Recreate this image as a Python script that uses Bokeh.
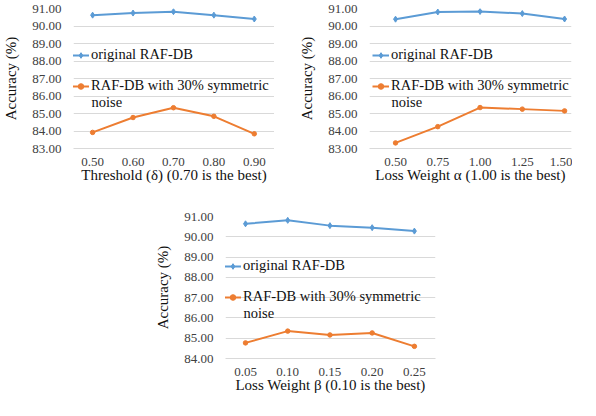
from bokeh.plotting import figure
from bokeh.models import Legend, LegendItem, Range1d, FixedTicker, Spacer, NumeralTickFormatter, Label
from bokeh.layouts import column, row
from bokeh.embed import file_html
from bokeh.resources import INLINE

# ---- data ----
thr = [0.50, 0.60, 0.70, 0.80, 0.90]
thr_orig = [90.62, 90.74, 90.82, 90.62, 90.40]
thr_noisy = [83.92, 84.77, 85.33, 84.84, 83.84]

alpha = [0.50, 0.75, 1.00, 1.25, 1.50]
alpha_orig = [90.39, 90.80, 90.83, 90.71, 90.40]
alpha_noisy = [83.32, 84.25, 85.34, 85.25, 85.15]

beta = [0.05, 0.10, 0.15, 0.20, 0.25]
beta_orig = [90.64, 90.81, 90.55, 90.45, 90.28]
beta_noisy = [84.77, 85.35, 85.16, 85.26, 84.60]

ticks_a = [83, 84, 85, 86, 87, 88, 89, 90, 91]
ticks_b = [84, 85, 86, 87, 88, 89, 90, 91]

label_orig = "original RAF-DB"
label_noisy = "RAF-DB with 30% symmetric"
label_noisy2 = "noise"
ylabel = "Accuracy (%)"

BLUE = "#5B9BD5"
ORANGE = "#ED7D31"
GRID = "#D9D9D9"
FONT = "Liberation Serif"
LEG_SIZE = "14.5px"


def panel(x, orig, noisy, xlabel, xr, yr, yticks, w, h, bl, br, bt, bb, vx, vy1, vy2, ny):
    p = figure(width=w, height=h, output_backend="svg", toolbar_location=None,
               x_range=Range1d(*xr), y_range=Range1d(*yr),
               min_border_left=bl, min_border_right=br, min_border_top=bt, min_border_bottom=bb)
    p.outline_line_color = None
    p.background_fill_color = "white"
    p.border_fill_color = "white"
    p.xgrid.grid_line_color = None
    p.ygrid.grid_line_color = GRID
    p.ygrid.grid_line_width = 1
    p.yaxis.ticker = FixedTicker(ticks=yticks)
    p.xaxis.ticker = FixedTicker(ticks=x)
    p.yaxis.formatter = NumeralTickFormatter(format="0.00")
    p.xaxis.formatter = NumeralTickFormatter(format="0.00")
    for ax in (p.xaxis[0], p.yaxis[0]):
        ax.major_tick_line_color = None
        ax.minor_tick_line_color = None
        ax.major_tick_out = 0
        ax.major_tick_in = 0
        ax.minor_tick_out = 0
        ax.minor_tick_in = 0
        ax.major_label_text_font = FONT
        ax.major_label_text_font_size = "13px"
        ax.major_label_text_color = "#404040"
        ax.axis_label_text_font = FONT
        ax.axis_label_text_font_size = "15px"
        ax.axis_label_text_font_style = "normal"
        ax.axis_label_text_color = "#111111"
    p.yaxis.axis_line_color = None
    p.xaxis.axis_line_color = GRID
    p.yaxis.major_label_standoff = 12
    p.yaxis.axis_label_standoff = 10
    p.xaxis.major_label_standoff = 9
    p.xaxis.axis_label_standoff = -2
    p.yaxis.axis_label = ylabel
    p.xaxis.axis_label = xlabel

    l1 = p.line(x, orig, line_color=BLUE, line_width=2)
    s1 = p.scatter(x, orig, marker="diamond", size=6, color=BLUE)
    l2 = p.line(x, noisy, line_color=ORANGE, line_width=2)
    s2 = p.scatter(x, noisy, marker="circle", size=4.5, color=ORANGE)

    for (lab, rs, vy) in ((label_orig, [l1, s1], vy1), (label_noisy, [l2, s2], vy2)):
        lg = Legend(items=[LegendItem(label=lab, renderers=rs)], location=(vx, vy),
                    padding=0, margin=0, spacing=0, glyph_width=17, glyph_height=14,
                    label_standoff=2, label_text_font=FONT, label_text_font_size=LEG_SIZE,
                    label_text_color="#111111", background_fill_alpha=0,
                    border_line_alpha=0, label_height=14)
        p.add_layout(lg)
    p.add_layout(Label(x=vx + 19, y=ny, x_units="screen", y_units="screen", text=label_noisy2,
                       text_font=FONT, text_font_size=LEG_SIZE, text_color="#111111",
                       text_baseline="middle", text_align="left"))
    return p


p1 = panel(thr, thr_orig, thr_noisy, "Threshold (δ) (0.70 is the best)",
           (0.4527, 0.95), (83, 91), ticks_a, 274, 190, 67, 0, 8, 42,
           -1, 85, 54, 47)
p2 = panel(alpha, alpha_orig, alpha_noisy, "Loss Weight α (1.00 is the best)",
           (0.346, 1.541), (83, 91), ticks_a, 298, 190, 95, 1, 8, 42,
           3, 85, 54, 47)
p3 = panel(beta, beta_orig, beta_noisy, "Loss Weight β (0.10 is the best)",
           (0.0263, 0.275), (84, 91), ticks_b, 300, 210, 83, 7, 26, 42,
           -1, 84, 53, 46)

layout = column(row(p1, p2), row(Spacer(width=142, height=10), p3))

open("out.html", "w").write(file_html(layout, INLINE))
